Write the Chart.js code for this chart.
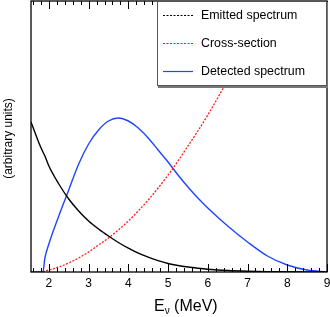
<!DOCTYPE html>
<html><head><meta charset="utf-8">
<script src="https://cdn.jsdelivr.net/npm/chart.js@4"></script>
<style>html,body{margin:0;padding:0;background:#fff}</style>
</head><body>
<canvas id="c" width="330" height="317"></canvas>
<script>
const energies     = [1.55, 1.75, 1.85, 1.9, 2.0, 2.25, 2.5, 2.75, 3.0, 3.25, 3.5, 3.75, 4.0, 4.25, 4.5, 4.75, 5.0, 5.25, 5.5, 5.75, 6.0, 6.5, 7.0, 7.5, 8.0, 8.5, 9.0];
const emitted      = [150, 129, 120, 116, 106, 88, 73, 61, 51, 43, 36, 29.5, 23.8, 18.8, 14.8, 11.3, 8.5, 6.5, 5, 3.8, 2.8, 1.5, 0.8, 0.4, 0.2, 0.1, 0];
const crossSection = [null, null, 0, 1, 2, 5, 9, 14, 20, 27, 34, 42, 51, 61, 72, 84, 97, 111, 126, 141, 157, 192, 230, 272, 315, 360, 410];
const detected     = [0, 0, 0, 14, 28, 56, 82, 108, 128, 142, 151, 154, 151, 144, 134, 122, 110, 97, 85, 74, 64, 46, 30, 16, 7, 2, 0];
const xTicks = [2, 3, 4, 5, 6, 7, 8, 9];
const seriesLabels = ['Emitted spectrum', 'Cross-section', 'Detected spectrum'];
const yTitle = '(arbitrary units)';

const FONT = '"Liberation Sans", Arial, Helvetica, sans-serif';
const pts = arr => energies.map((e, i) => ({x: e, y: arr[i]}));

const decor = {
  id: 'decor',
  afterDatasetsDraw(chart) {
    const {ctx, chartArea: a, scales: {x}} = chart;
    ctx.save();
    // ticks (bottom & top)
    ctx.strokeStyle = '#000';
    ctx.lineWidth = 1;
    for (let t = 16; t <= 90; t += 2) {
      const v = t / 10;
      const px = Math.round(x.getPixelForValue(v)) + 0.5;
      const len = (t % 10 === 0) ? 8 : 4;
      ctx.beginPath();
      ctx.moveTo(px, a.bottom); ctx.lineTo(px, a.bottom - len);
      ctx.moveTo(px, a.top); ctx.lineTo(px, a.top + len);
      ctx.stroke();
    }
    // tick labels
    ctx.fillStyle = '#000';
    ctx.font = '12px ' + FONT;
    ctx.textAlign = 'center';
    ctx.textBaseline = 'middle';
    xTicks.forEach(v => ctx.fillText(String(v), x.getPixelForValue(v), a.bottom + 12));
    // frame
    ctx.lineWidth = 1.3;
    ctx.strokeRect(a.left, a.top, a.right - a.left, a.bottom - a.top);
    // legend box
    const lx = 157, ly = 1, lw = a.right - 157, lh = 85;
    ctx.fillStyle = '#777';
    ctx.fillRect(lx + 1, ly + 1, lw, lh + 1);
    ctx.fillStyle = '#fff';
    ctx.fillRect(lx, ly, lw, lh);
    ctx.strokeStyle = '#555';
    ctx.lineWidth = 1;
    ctx.strokeRect(lx + 0.5, ly + 0.5, lw - 1, lh - 1);
    const rows = [15, 43, 71];
    chart.data.datasets.forEach((ds, i) => {
      ctx.beginPath();
      ctx.strokeStyle = ds.borderColor;
      ctx.lineWidth = 1.2;
      ctx.setLineDash(i === 2 ? [] : [2, 1.5]);
      ctx.moveTo(163, rows[i] + 0.5); ctx.lineTo(193, rows[i] + 0.5);
      ctx.stroke();
      ctx.setLineDash([]);
      ctx.fillStyle = '#000';
      ctx.font = '12.4px ' + FONT;
      ctx.textBaseline = 'middle';
      ctx.textAlign = 'left';
      ctx.fillText(ds.label, 201, rows[i] + 1);
    });
    // y title
    ctx.save();
    ctx.translate(9, (a.top + a.bottom) / 2 + 2);
    ctx.rotate(-Math.PI / 2);
    ctx.font = '12px ' + FONT;
    ctx.textAlign = 'center';
    ctx.textBaseline = 'middle';
    ctx.fillStyle = '#000';
    ctx.fillText(yTitle, 0, 0);
    ctx.restore();
    // x title with subscript
    ctx.fillStyle = '#000';
    ctx.textBaseline = 'alphabetic';
    ctx.textAlign = 'left';
    let tx = 154; const by = 311;
    ctx.font = '16px ' + FONT;
    ctx.fillText('E', tx, by); tx += ctx.measureText('E').width;
    ctx.font = '10px ' + FONT;
    ctx.fillText('\u03bd', tx, by + 3); tx += ctx.measureText('\u03bd').width;
    ctx.font = '16px ' + FONT;
    ctx.fillText(' (MeV)', tx, by);
    ctx.restore();
  }
};

new Chart(document.getElementById('c'), {
  type: 'line',
  data: {
    datasets: [
      {label: seriesLabels[0], data: pts(emitted), borderColor: '#000000', borderWidth: 1.4, pointRadius: 0, cubicInterpolationMode: 'monotone', fill: false},
      {label: seriesLabels[1], data: pts(crossSection), borderColor: '#ff1a1a', borderWidth: 1.3, borderDash: [2, 1.5], pointRadius: 0, cubicInterpolationMode: 'monotone', fill: false},
      {label: seriesLabels[2], data: pts(detected), borderColor: '#1f45ff', borderWidth: 1.4, pointRadius: 0, cubicInterpolationMode: 'monotone', fill: false}
    ]
  },
  options: {
    responsive: false,
    animation: false,
    devicePixelRatio: 1,
    layout: {padding: {left: 31, right: 3, top: 1, bottom: 45}},
    plugins: {legend: {display: false}, tooltip: {enabled: false}},
    scales: {
      x: {type: 'linear', min: 1.55, max: 9, display: false},
      y: {type: 'linear', min: 0, max: 271, display: false}
    }
  },
  plugins: [decor]
});
</script>
</body></html>
